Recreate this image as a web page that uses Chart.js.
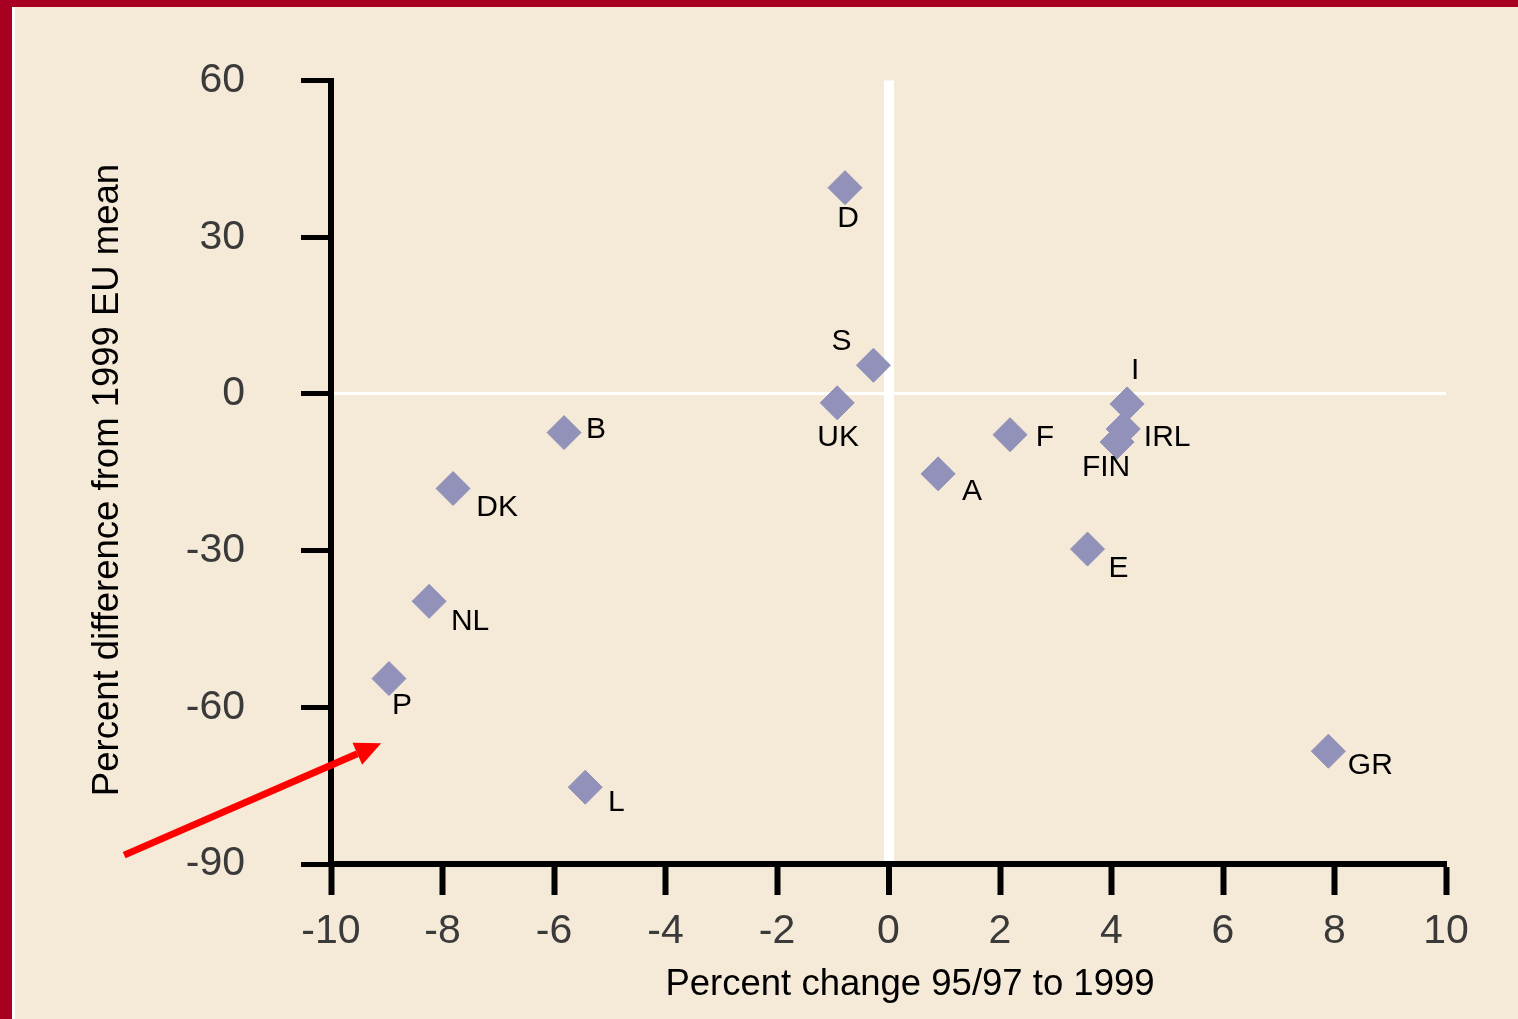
<!DOCTYPE html>
<html>
<head>
<meta charset="utf-8">
<script src="https://cdn.jsdelivr.net/npm/chart.js@4.4.1/dist/chart.umd.min.js"></script>
<style>
  html, body { margin: 0; padding: 0; background: #f5e9d7; }
  #wrap { width: 1518px; height: 1019px; position: relative; }
</style>
</head>
<body>
<div id="wrap"><canvas id="scatter"></canvas></div>
<script>
// countries and values
const countries = ['D', 'S', 'UK', 'B', 'DK', 'NL', 'P', 'L', 'A', 'F', 'I', 'IRL', 'FIN', 'E', 'GR'];
const pctChange = [-0.78, -0.27, -0.92, -5.82, -7.81, -8.24, -8.96, -5.44, 0.89, 2.18, 4.28, 4.21, 4.1, 3.57, 7.89];
const pctDiff = [39.5, 5.5, -1.7, -7.4, -18.1, -39.7, -54.5, -75.3, -15.3, -7.8, -1.9, -6.7, -9.2, -29.7, -68.4];
const xTicks = [-10, -8, -6, -4, -2, 0, 2, 4, 6, 8, 10];
const yTicks = [-90, -60, -30, 0, 30, 60];
const xTitle = 'Percent change 95/97 to 1999';
const yTitle = 'Percent difference from 1999 EU mean';

// where each country label sits relative to its marker (px)
const labelOffsets = [[3, 31], [-32, -24], [1, 35], [32, -3], [44, 19], [41, 20], [13, 27], [31, 16],
  [34, 18], [35, 3], [8, -33], [44, 9], [-11, 26], [31, 20], [42, 15]];

// red arrow annotation (in data units)
const arrowFrom = [-13.71, -88.3];
const arrowTo = [-9.1, -66.9];

const FONT = '"Liberation Sans", Arial, sans-serif';

const frame = {
  id: 'frame',
  beforeDraw(chart) {
    const c = chart.ctx;
    c.save();
    c.fillStyle = '#f5e9d7';
    c.fillRect(0, 0, chart.width, chart.height);
    c.fillStyle = '#a80020';
    c.fillRect(0, 0, chart.width, 7);
    c.fillRect(0, 0, 12, chart.height);
    c.fillStyle = '#ffffff';
    c.fillRect(12, 7, 3, chart.height);
    c.restore();
  }
};

const labels = {
  id: 'labels',
  afterDatasetsDraw(chart) {
    const c = chart.ctx;
    const meta = chart.getDatasetMeta(0);
    c.save();
    c.font = '30px ' + FONT;
    c.fillStyle = '#000';
    c.textAlign = 'center';
    c.textBaseline = 'middle';
    meta.data.forEach((pt, i) => {
      c.fillText(countries[i], pt.x + labelOffsets[i][0], pt.y + labelOffsets[i][1]);
    });

    // axis titles (the originals sit a little off the axis centres)
    c.font = '36.5px ' + FONT;
    c.fillText(xTitle, 910, 985);
    c.save();
    c.translate(108, 480);
    c.rotate(-Math.PI / 2);
    c.fillText(yTitle, 0, 0);
    c.restore();

    // arrow
    const xs = chart.scales.x, ys = chart.scales.y;
    const x1 = xs.getPixelForValue(arrowFrom[0]), y1 = ys.getPixelForValue(arrowFrom[1]);
    const x2 = xs.getPixelForValue(arrowTo[0]), y2 = ys.getPixelForValue(arrowTo[1]);
    const ang = Math.atan2(y2 - y1, x2 - x1);
    const head = 26;
    const bx = x2 - Math.cos(ang) * head, by = y2 - Math.sin(ang) * head;
    c.strokeStyle = '#ff0000';
    c.fillStyle = '#ff0000';
    c.lineWidth = 7;
    c.beginPath();
    c.moveTo(x1, y1);
    c.lineTo(bx, by);
    c.stroke();
    c.beginPath();
    c.moveTo(x2, y2);
    c.lineTo(bx + Math.sin(ang) * 12, by - Math.cos(ang) * 12);
    c.lineTo(bx - Math.sin(ang) * 12, by + Math.cos(ang) * 12);
    c.closePath();
    c.fill();
    c.restore();
  }
};

const points = countries.map((n, i) => ({ x: pctChange[i], y: pctDiff[i] }));

new Chart(document.getElementById('scatter'), {
  type: 'scatter',
  data: {
    datasets: [{
      data: points,
      pointStyle: 'rectRot',
      pointRadius: 17,
      backgroundColor: '#9191b9',
      borderColor: '#9191b9',
      borderWidth: 1
    }]
  },
  options: {
    responsive: true,
    maintainAspectRatio: false,
    animation: false,
    layout: { padding: { top: 77, right: 72, left: 0, bottom: 0 } },
    plugins: { legend: { display: false }, tooltip: { enabled: false } },
    scales: {
      x: {
        type: 'linear',
        min: -10, max: 10,
        afterFit(scale) { scale.height = 155; },
        afterBuildTicks(scale) { scale.ticks = xTicks.map(v => ({ value: v })); },
        border: { color: '#000', width: 6 },
        grid: {
          color: ctx => (ctx.tick && ctx.tick.value === 0) ? '#ffffff' : 'rgba(0,0,0,0)',
          lineWidth: ctx => (ctx.tick && ctx.tick.value === 0) ? 10 : 1,
          tickColor: '#000',
          tickWidth: 6,
          tickLength: 31
        },
        ticks: {
          color: '#3a3a3a',
          padding: 12,
          font: { family: FONT, size: 41 }
        }
      },
      y: {
        min: -90, max: 60,
        afterFit(scale) { scale.width = 331; },
        afterBuildTicks(scale) { scale.ticks = yTicks.map(v => ({ value: v })); },
        border: { color: '#000', width: 6 },
        grid: {
          color: ctx => (ctx.tick && ctx.tick.value === 0) ? '#ffffff' : 'rgba(0,0,0,0)',
          lineWidth: ctx => (ctx.tick && ctx.tick.value === 0) ? 3 : 1,
          tickColor: '#000',
          tickWidth: 5,
          tickLength: 30
        },
        ticks: {
          color: '#3a3a3a',
          padding: 56,
          font: { family: FONT, size: 41 }
        }
      }
    }
  },
  plugins: [frame, labels]
});
</script>
</body>
</html>
